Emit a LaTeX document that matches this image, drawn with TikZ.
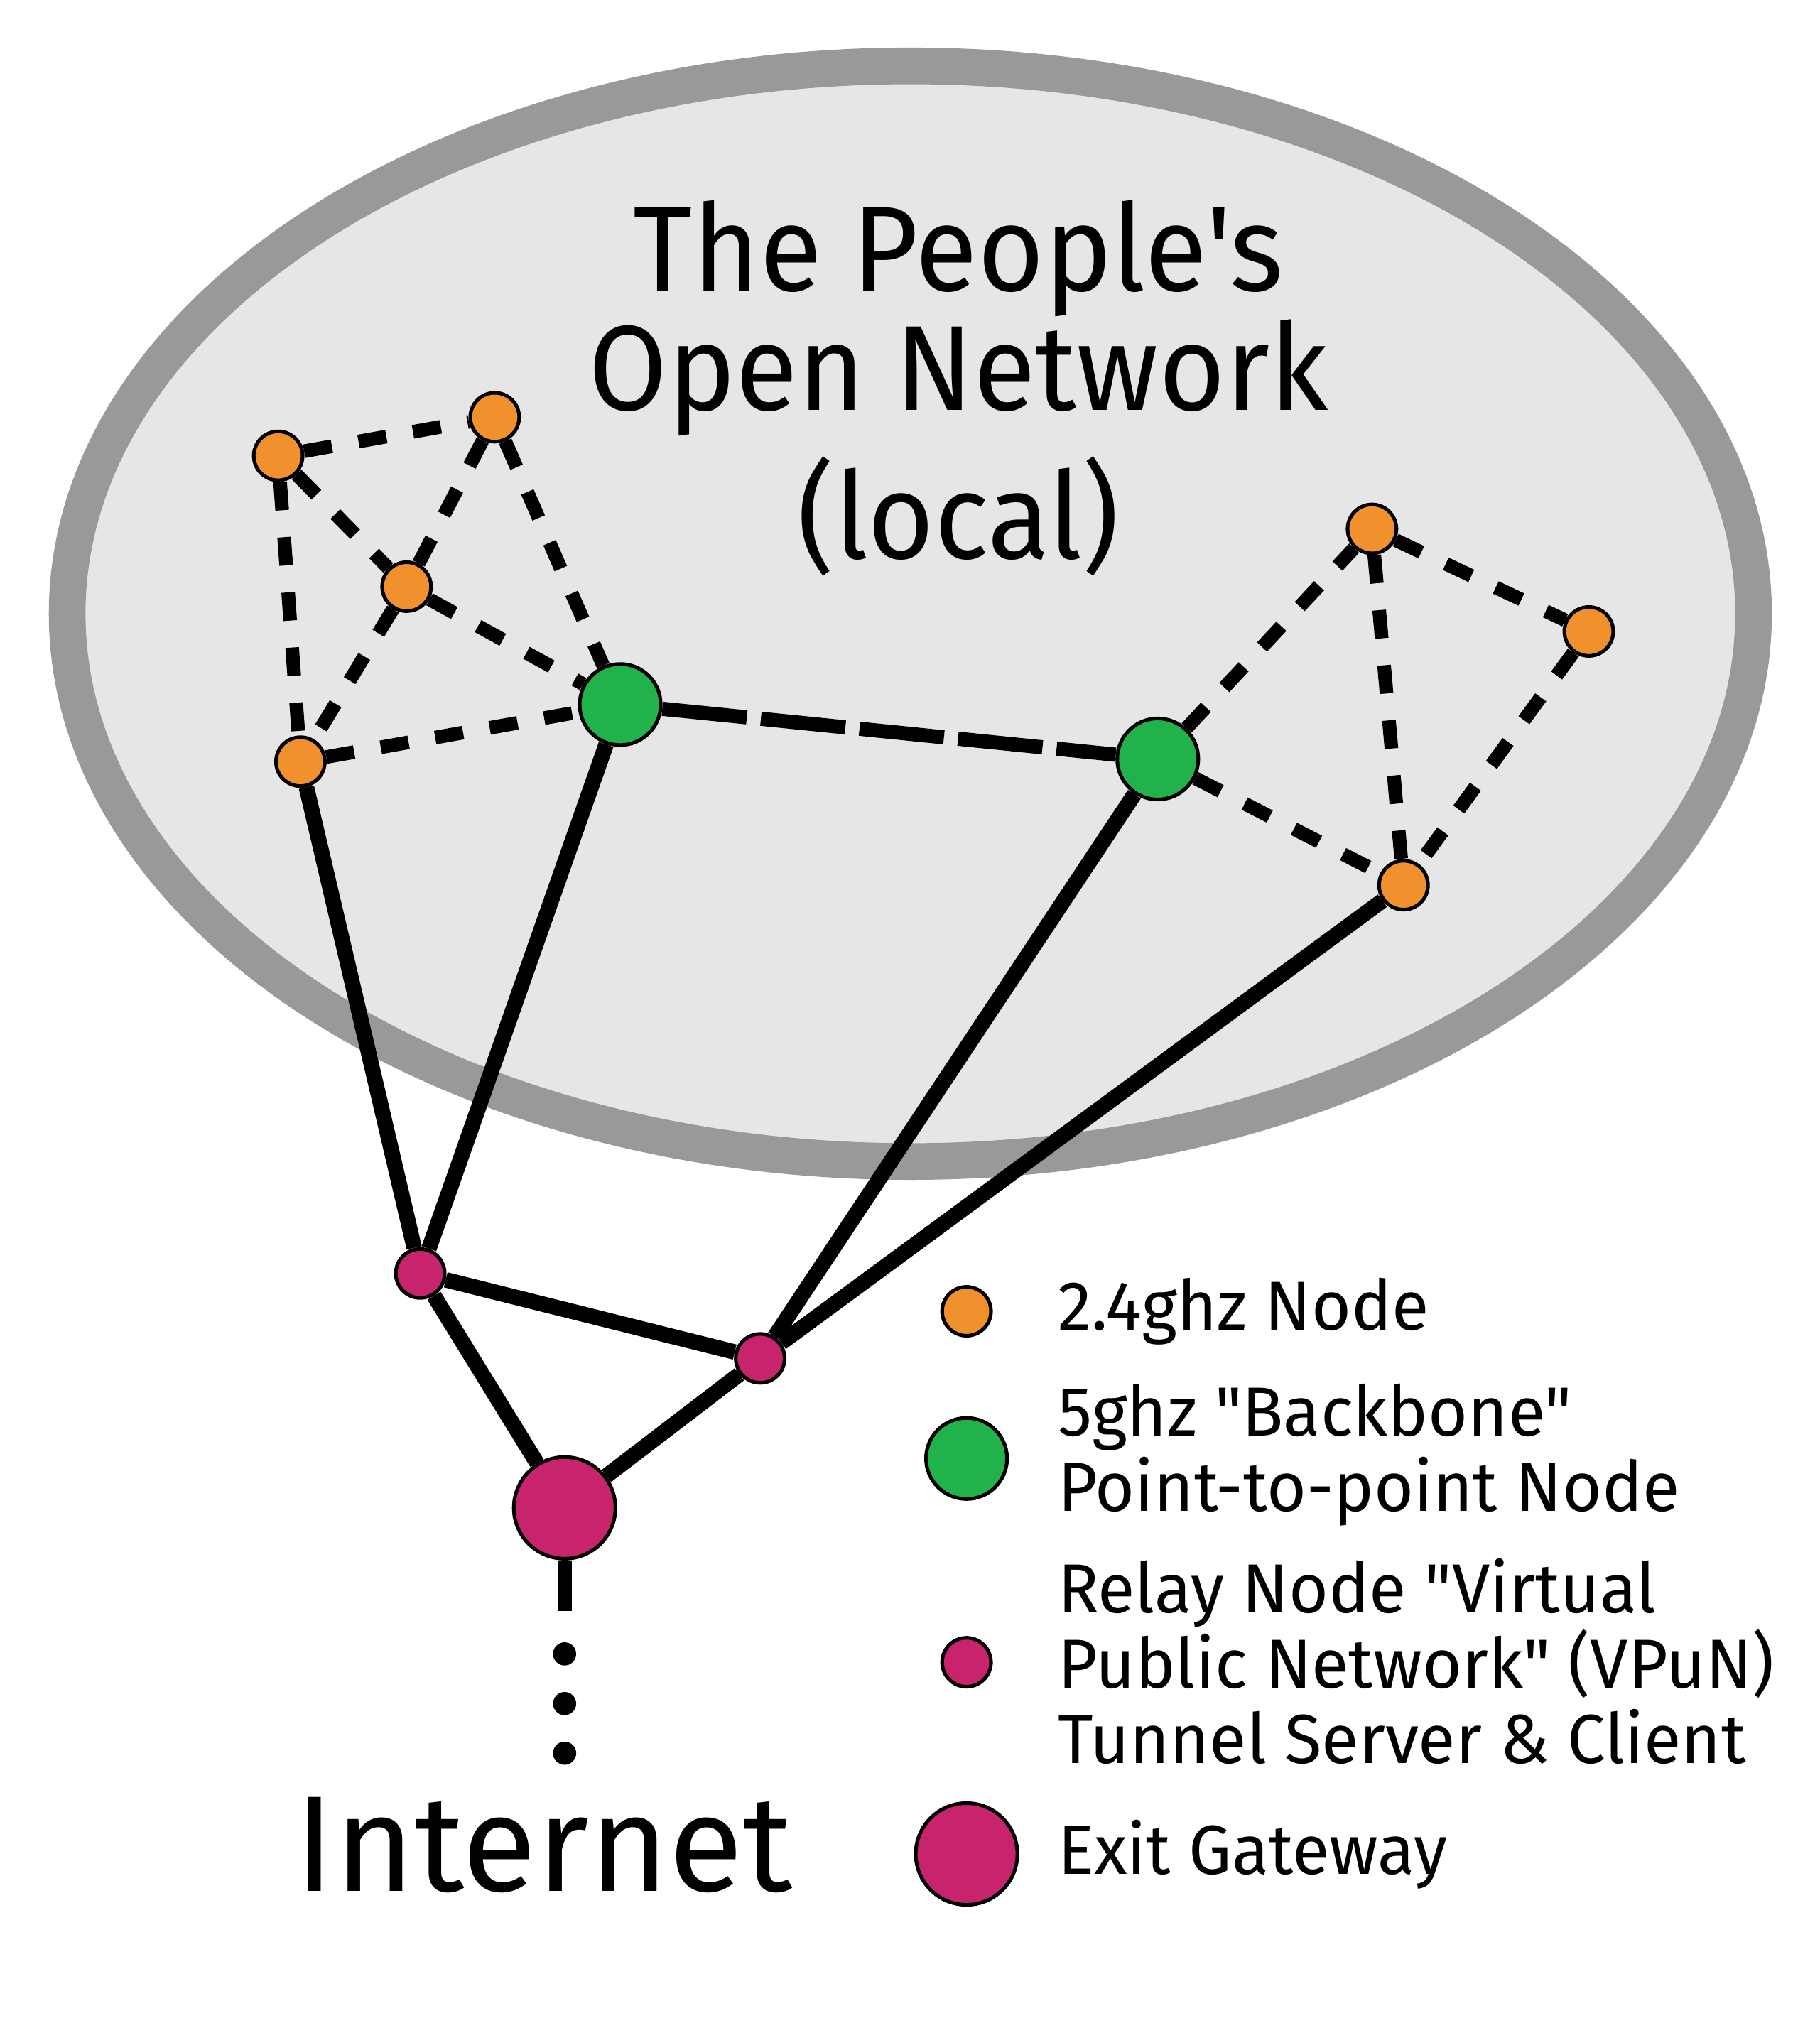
\documentclass[tikz,border=0pt]{standalone}
\usepackage{fontspec}
\newfontfamily\popfont{Fira Sans}
\newfontfamily\titlefont{Fira Sans}[FakeStretch=0.945]
\newfontfamily\keyfont{Fira Sans}[FakeStretch=0.98]
\usepackage{xcolor}
\definecolor{meshorange}{HTML}{F1912D}
\definecolor{backbonegreen}{HTML}{21B24B}
\definecolor{relaypink}{HTML}{C8246E}
\definecolor{cloudfill}{HTML}{E6E6E6}
\definecolor{cloudline}{HTML}{999999}

\begin{document}
\begin{tikzpicture}[x=0.5pt, y=-0.5pt,
    node24/.style={circle, draw, line width=1.4pt, fill=meshorange, minimum size=19pt, inner sep=0pt},
    backbone/.style={circle, draw, line width=1.4pt, fill=backbonegreen, minimum size=31.5pt, inner sep=0pt},
    relay/.style={circle, draw, line width=1.4pt, fill=relaypink, minimum size=19pt, inner sep=0pt},
    gateway/.style={circle, draw, line width=1.4pt, fill=relaypink, minimum size=39.5pt, inner sep=0pt},
    wifi/.style={line width=5.3pt, dash pattern=on 11pt off 10.5pt},
    backhaul/.style={line width=5.5pt, dash pattern=on 33pt off 5.5pt},
    wired/.style={line width=6pt},
    keytext/.style={anchor=base west, align=left, inner sep=0pt, font=\keyfont\fontsize{27}{29.3}\selectfont}
]
    \useasboundingbox (0,0) rectangle (1414,1572.4);

    % the local network cloud
    \draw[line width=14.25pt, draw=cloudline, fill=cloudfill] (707.5,477) ellipse [x radius=327.65pt, y radius=212.9pt];
    \node (title) [align=center, inner sep=0pt, anchor=base, font=\titlefont\fontsize{47}{46.5}\selectfont, shift={(745,434.4)}]
    {
        The People's\\Open Network\\[7pt](local)
    };

    % nodes
    \node (mesh_nw) [node24, shift={(216.2,354.3)}] {};
    \node (mesh_n) [node24, shift={(384.5,324.3)}] {};
    \node (mesh_mid) [node24, shift={(316,456)}] {};
    \node (mesh_sw) [node24, shift={(233.5,592)}] {};
    \node (mesh_ne) [node24, shift={(1066.3,411.1)}] {};
    \node (mesh_e) [node24, shift={(1234.8,490.8)}] {};
    \node (mesh_se) [node24, shift={(1090.8,688)}] {};
    \node (backbone_west) [backbone, shift={(482,547.6)}] {};
    \node (backbone_east) [backbone, shift={(899.8,589.9)}] {};
    \node (relay_west) [relay, shift={(326.6,989.8)}] {};
    \node (relay_east) [relay, shift={(590.8,1055.8)}] {};
    \node (exit_gateway) [gateway, shift={(438.8,1172)}] {};

    % 2.4ghz links
    \draw[wifi] (mesh_nw) to (mesh_n);
    \draw[wifi] (mesh_nw) to (mesh_mid);
    \draw[wifi] (mesh_nw) to (mesh_sw);
    \draw[wifi] (mesh_n) to (mesh_mid);
    \draw[wifi] (mesh_n) to (backbone_west);
    \draw[wifi] (mesh_mid) to (backbone_west);
    \draw[wifi] (mesh_mid) to (mesh_sw);
    \draw[wifi] (mesh_sw) to (backbone_west);
    \draw[wifi] (backbone_east) to (mesh_ne);
    \draw[wifi] (backbone_east) to (mesh_se);
    \draw[wifi] (mesh_ne) to (mesh_e);
    \draw[wifi] (mesh_ne) to (mesh_se);
    \draw[wifi] (mesh_e) to (mesh_se);
    \draw[backhaul] (backbone_west) to (backbone_east);

    % tunnels
    \draw[wired] (mesh_sw) to (relay_west);
    \draw[wired] (backbone_west) to (relay_west);
    \draw[wired] (backbone_east) to (relay_east);
    \draw[wired] (mesh_se) to (relay_east);
    \draw[wired] (relay_west) to (relay_east);
    \draw[wired] (relay_west) to (exit_gateway);
    \draw[wired] (relay_east) to (exit_gateway);

    % uplink
    \coordinate (uplink_end) at (438.8,1252);
    \coordinate (dots_top) at (438.8,1285.5);
    \coordinate (dots_bottom) at (438.8,1362.8);
    \draw[line width=5.5pt] (exit_gateway) to (uplink_end);
    \draw[line width=9pt, line cap=round, dash pattern=on 0pt off 19.3pt] (dots_top) to (dots_bottom);
    \node (internet) [anchor=base, inner sep=0pt, font=\popfont\fontsize{53}{60}\selectfont, shift={(422.5,1470)}]
    {
        Internet
    };

    % legend
    \node (key_node24) [node24, shift={(751.2,1019.2)}] {};
    \node (key_backbone) [backbone, shift={(751.2,1133.6)}] {};
    \node (key_relay) [relay, shift={(751.2,1292)}] {};
    \node (key_gateway) [gateway, shift={(751.2,1441)}] {};
    \node (key_node24_text) [keytext, shift={(821.7,1034)}]
    {
        2.4ghz Node
    };
    \node (key_backbone_text) [keytext, shift={(821.7,1174.8)}]
    {
        5ghz "Backbone"\\Point-to-point Node
    };
    \node (key_relay_text) [keytext, shift={(821.7,1370.6)}]
    {
        Relay Node "Virtual\\Public Network" (VPuN)\\Tunnel Server \& Client
    };
    \node (key_gateway_text) [keytext, shift={(821.7,1456.6)}]
    {
        Exit Gateway
    };
\end{tikzpicture}
\end{document}
